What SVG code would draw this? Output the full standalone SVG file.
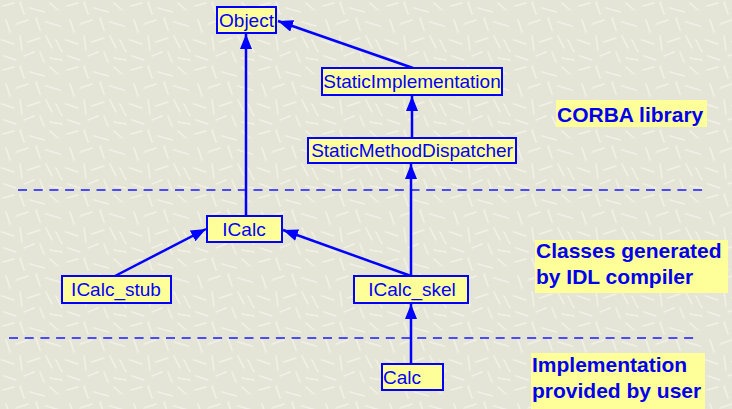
<svg xmlns="http://www.w3.org/2000/svg" width="732" height="409" viewBox="0 0 732 409">
  <defs>
    <!-- light scratched paper texture -->
    <pattern id="paper" width="64" height="64" patternUnits="userSpaceOnUse">
      <rect width="64" height="64" fill="#e4e4d7"/>
      <g stroke="#f3f3ea" stroke-width="1.6" stroke-linecap="round" opacity="0.85">
        <path d="M3 6 L14 3"/>
        <path d="M20 2 L24 14"/>
        <path d="M30 8 L44 12"/>
        <path d="M50 3 L58 10"/>
        <path d="M6 20 L10 32"/>
        <path d="M16 24 L28 20"/>
        <path d="M36 18 L40 30"/>
        <path d="M46 22 L60 26"/>
        <path d="M2 40 L14 44"/>
        <path d="M20 36 L22 50"/>
        <path d="M28 42 L40 38"/>
        <path d="M46 36 L52 48"/>
        <path d="M56 40 L62 52"/>
        <path d="M4 56 L16 60"/>
        <path d="M24 56 L34 52"/>
        <path d="M40 52 L44 62"/>
        <path d="M50 58 L62 60"/>
      </g>
    </pattern>
    <marker id="tri" viewBox="0 0 15 12" refX="15" refY="6" markerWidth="15" markerHeight="12" markerUnits="userSpaceOnUse" orient="auto">
      <path d="M0 0 L15 6 L0 12 Z" fill="#0000ff"/>
    </marker>
  </defs>
  <style>
    .box { fill: #ffff99; stroke: #0000ff; stroke-width: 2; }
    .name { font-family: "Liberation Sans", Arial, sans-serif; font-size: 19px; fill: #0000ff; }
    .mid { text-anchor: middle; }
    .link { stroke: #0000ff; stroke-width: 2.5; fill: none; marker-end: url(#tri); }
    .sep { stroke: #1a1aff; stroke-width: 1.6; stroke-dasharray: 9 6.7; fill: none; }
    .hl { fill: #ffff99; }
    .layer { font-family: "Liberation Sans", Arial, sans-serif; font-size: 21px; font-weight: bold; fill: #0000ee; }
  </style>

  <rect width="732" height="409" fill="url(#paper)"/>

  <!-- layer separators -->
  <g id="separators">
    <path class="sep" d="M18 190 H704"/>
    <path class="sep" d="M9 338 H694" stroke="#4a4aff"/>
  </g>

  <!-- layer labels -->
  <g id="label-corba">
    <rect class="hl" x="556" y="100" width="151" height="27"/>
    <text class="layer" x="557" y="122">CORBA library</text>
  </g>
  <g id="label-generated">
    <rect class="hl" x="535" y="240" width="193" height="53"/>
    <text class="layer" x="536" y="258">Classes generated</text>
    <text class="layer" x="536" y="284">by IDL compiler</text>
  </g>
  <g id="label-user">
    <rect class="hl" x="531" y="353" width="174" height="56"/>
    <text class="layer" x="532" y="372">Implementation</text>
    <text class="layer" x="532" y="398">provided by user</text>
  </g>

  <!-- inheritance connectors -->
  <g id="connectors">
    <path class="link" d="M246 216 V34"/>
    <path class="link" d="M413 68 L278 21"/>
    <path class="link" d="M412 138 V96"/>
    <path class="link" d="M411 276 V164"/>
    <path class="link" d="M115 276 L206 229"/>
    <path class="link" d="M411 276 L283 230"/>
    <path class="link" d="M411 364 V304"/>
  </g>

  <!-- classes -->
  <g id="Object">
    <rect class="box" x="217" y="7" width="59" height="26"/>
    <text class="name mid" x="246.5" y="27">Object</text>
  </g>
  <g id="StaticImplementation">
    <rect class="box" x="322" y="68" width="180" height="27"/>
    <text class="name mid" x="412" y="88">StaticImplementation</text>
  </g>
  <g id="StaticMethodDispatcher">
    <rect class="box" x="308" y="138" width="208" height="25"/>
    <text class="name mid" x="412" y="157">StaticMethodDispatcher</text>
  </g>
  <g id="ICalc">
    <rect class="box" x="207" y="216" width="75" height="26"/>
    <text class="name mid" x="244" y="236">ICalc</text>
  </g>
  <g id="ICalc_stub">
    <rect class="box" x="62" y="276" width="109" height="27"/>
    <text class="name mid" x="116" y="296">ICalc_stub</text>
  </g>
  <g id="ICalc_skel">
    <rect class="box" x="354" y="276" width="114" height="27"/>
    <text class="name mid" x="412" y="296">ICalc_skel</text>
  </g>
  <g id="Calc">
    <rect class="box" x="382" y="364" width="61" height="26"/>
    <text class="name" x="383" y="384">Calc</text>
  </g>
</svg>
